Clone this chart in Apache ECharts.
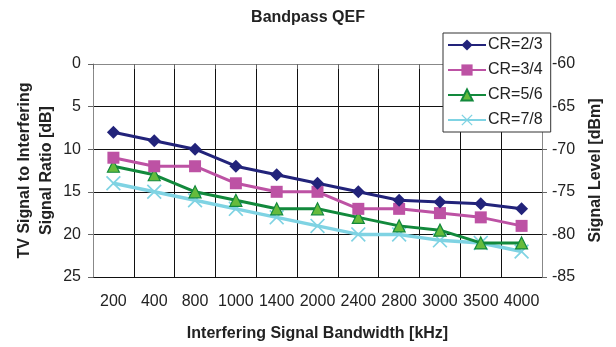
<!DOCTYPE html>
<html><head><meta charset="utf-8">
<script src="https://cdn.jsdelivr.net/npm/echarts@6/dist/echarts.min.js"></script>
<style>html,body{margin:0;padding:0;background:#fff}#c{width:616px;height:347px}</style>
</head><body><div id="c"></div>
<script>
const categories = ['200','400','800','1000','1400','2000','2400','2800','3000','3500','4000'];
const cr23 = [8, 9, 10, 12, 13, 14, 15, 16, 16.2, 16.4, 17];
const cr34 = [11, 12, 12, 14, 15, 15, 17, 17, 17.5, 18, 19];
const cr56 = [12, 13, 15, 16, 17, 17, 18, 19, 19.5, 21, 21];
const cr78 = [14, 15, 16, 17, 18, 19, 20, 20, 20.7, 21, 22];
const seriesNames = ['CR=2/3','CR=3/4','CR=5/6','CR=7/8'];

const font = 'Liberation Sans, Arial, sans-serif';
const xPath = 'path://M0,8L8,0L50,42L92,0L100,8L58,50L100,92L92,100L50,58L8,100L0,92L42,50Z';

const chart = echarts.init(document.getElementById('c'), null, {renderer:'canvas'});
chart.setOption({
  animation:false,
  backgroundColor:'#fff',
  title:{text:'Bandpass QEF',left:'center',top:5,
    textStyle:{fontFamily:font,fontSize:16,fontWeight:'bold',color:'#222'}},
  legend:{orient:'vertical',left:443,top:33,
    backgroundColor:'#fff',borderColor:'#333',borderWidth:1,
    padding:[4,8,4,4],itemWidth:38,itemHeight:14,itemGap:9,
    textStyle:{fontFamily:font,fontSize:16,color:'#222',lineHeight:16,padding:[0,0,0,-3]},
    data:seriesNames},
  grid:{left:93,right:74,top:64,bottom:68},
  xAxis:{type:'category',data:categories,boundaryGap:true,
    name:'Interfering Signal Bandwidth [kHz]',nameLocation:'middle',nameGap:49,nameMoveOverlap:false,
    nameTextStyle:{fontFamily:font,fontSize:16,fontWeight:'bold',color:'#222'},
    axisLine:{lineStyle:{color:'#888',width:1}},
    axisTick:{show:true,length:5,lineStyle:{color:'#666'}},
    axisLabel:{fontFamily:font,fontSize:16,color:'#222',margin:17,interval:0},
    splitLine:{show:true,interval:0,lineStyle:{color:'#111',width:1}}},
  yAxis:[{type:'value',inverse:true,min:0,max:25,interval:5,position:'left',
    name:'TV Signal to Interfering\nSignal Ratio [dB]',nameLocation:'middle',nameGap:35,nameRotate:90,nameMoveOverlap:false,
    nameTextStyle:{fontFamily:font,fontSize:16,fontWeight:'bold',color:'#222',lineHeight:22},
    axisLine:{show:true,lineStyle:{color:'#888'}},
    axisTick:{show:true,length:5,lineStyle:{color:'#666'}},
    axisLabel:{fontFamily:font,fontSize:16,color:'#222',margin:12},
    splitLine:{show:true,lineStyle:{color:'#111',width:1}}},
   {type:'value',min:-85,max:-60,interval:5,position:'right',
    name:'Signal Level [dBm]',nameLocation:'middle',nameGap:46,nameRotate:90,nameMoveOverlap:false,
    nameTextStyle:{fontFamily:font,fontSize:16,fontWeight:'bold',color:'#222'},
    axisLine:{show:true,lineStyle:{color:'#888'}},
    axisTick:{show:true,length:5,lineStyle:{color:'#666'}},
    axisLabel:{fontFamily:font,fontSize:16,color:'#222',margin:10},
    splitLine:{show:false}}],
  series:[
    {name:seriesNames[0],type:'line',data:cr23,symbol:'diamond',symbolSize:13,
      lineStyle:{color:'#22237a',width:3},itemStyle:{color:'#22237a'},z:5},
    {name:seriesNames[1],type:'line',data:cr34,symbol:'rect',symbolSize:12,
      lineStyle:{color:'#bd52a4',width:3},itemStyle:{color:'#bd52a4'},z:4},
    {name:seriesNames[2],type:'line',data:cr56,symbol:'triangle',symbolSize:12,
      lineStyle:{color:'#12893c',width:3},itemStyle:{color:'#66bb3c',borderColor:'#12893c',borderWidth:1.2},z:3},
    {name:seriesNames[3],type:'line',data:cr78,symbol:xPath,symbolSize:15,
      lineStyle:{color:'#7fd3e3',width:3.5},itemStyle:{color:'#7fd3e3'},z:2}
  ]
});
</script></body></html>
